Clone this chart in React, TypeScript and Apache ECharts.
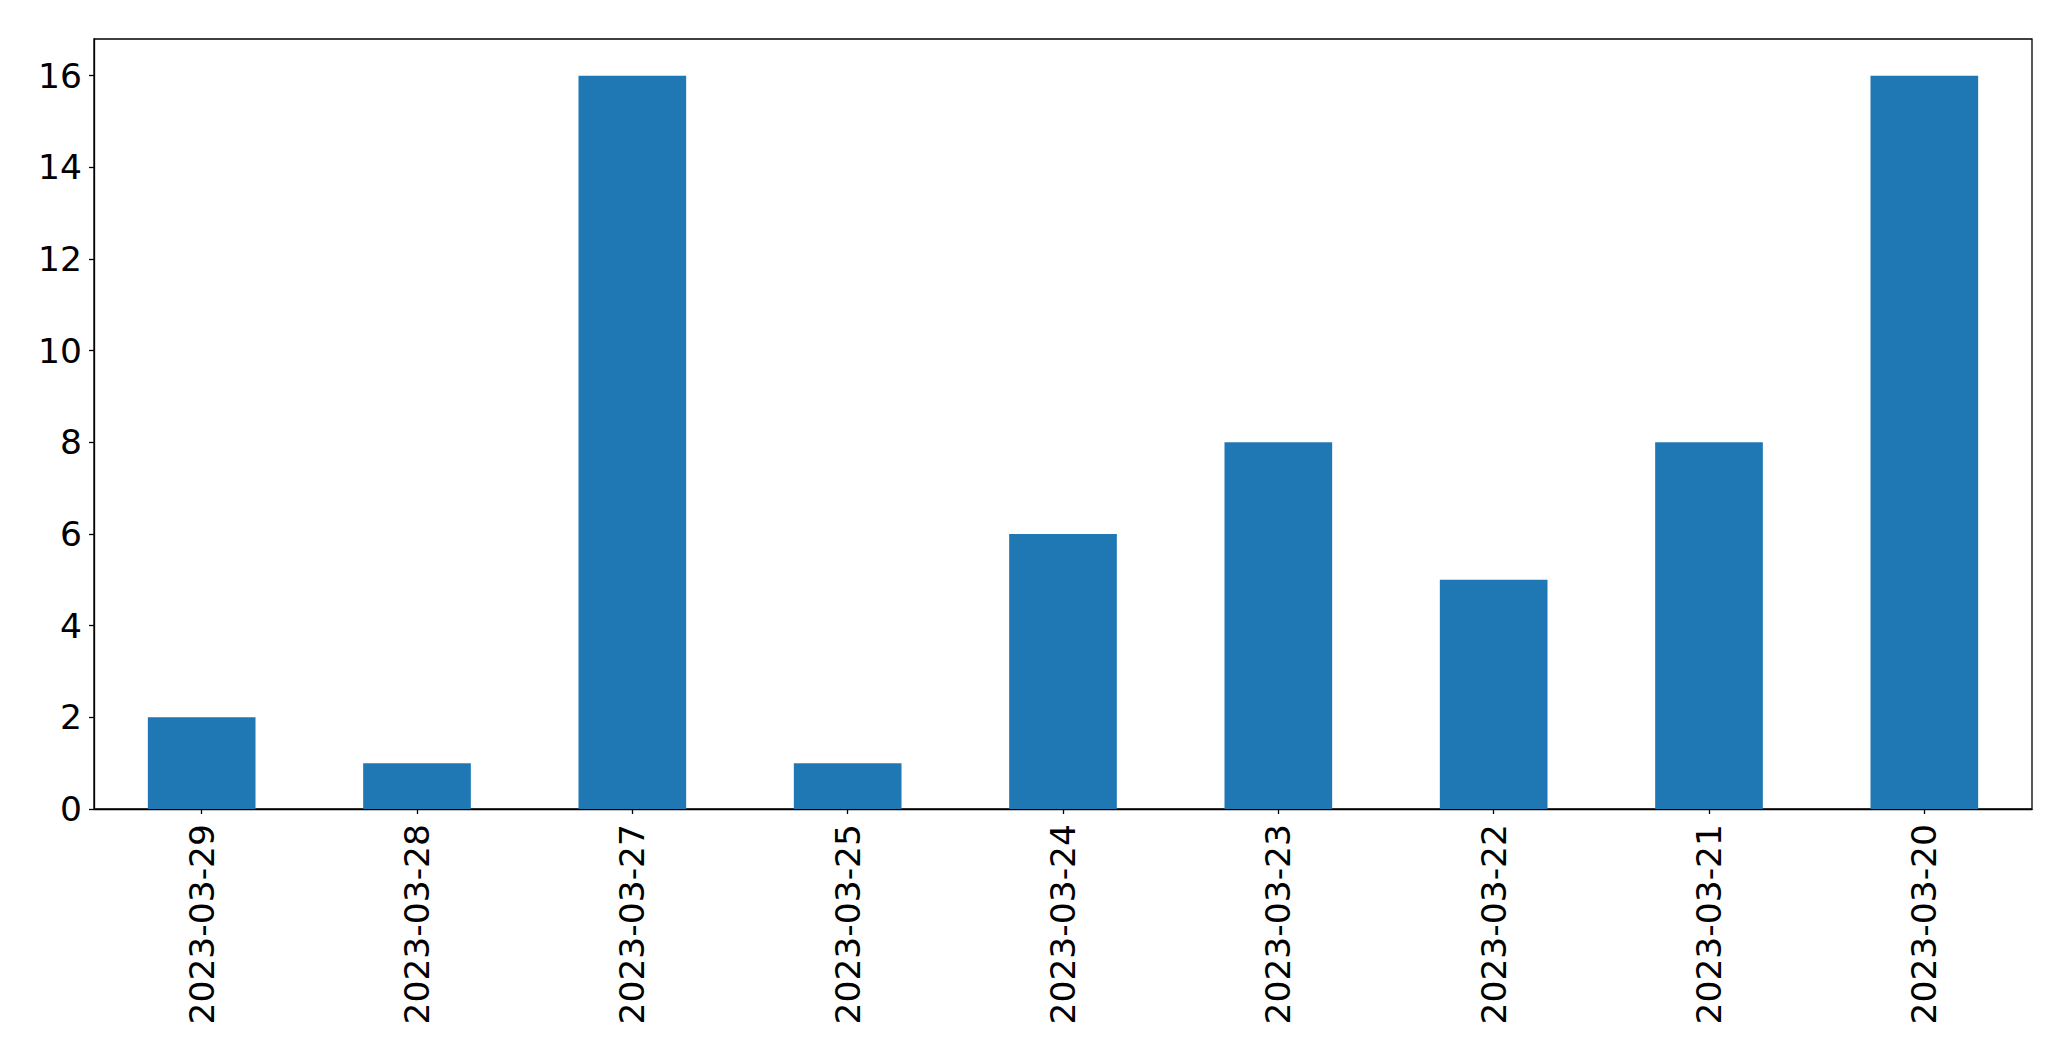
import React, { useEffect, useRef } from "react";
import * as echarts from "echarts";

const categories = ["2023-03-29", "2023-03-28", "2023-03-27", "2023-03-25", "2023-03-24", "2023-03-23", "2023-03-22", "2023-03-21", "2023-03-20"];
const values = [2, 1, 16, 1, 6, 8, 5, 8, 16];
const yTicks = [0, 2, 4, 6, 8, 10, 12, 14, 16];
const yMax = 16.8;

export default function App() {
  const ref = useRef<HTMLDivElement>(null);
  useEffect(() => {
    const chart = echarts.init(ref.current!, null, { renderer: "svg" });
    const font = "DejaVu Sans";
    chart.setOption({
      animation: false,
      backgroundColor: "#ffffff",
      grid: {
        left: 94,
        top: 39,
        width: 1938,
        height: 770,
        show: true,
        borderColor: "#000",
        borderWidth: 1.3,
        backgroundColor: "transparent",
      },
      xAxis: {
        type: "category",
        data: categories,
        boundaryGap: true,
        axisLine: { show: true, lineStyle: { color: "#000", width: 1.3 } },
        axisTick: { show: true, alignWithLabel: true, length: 5, lineStyle: { color: "#000", width: 1.3 } },
        axisLabel: { rotate: 90, fontSize: 34.5, fontFamily: font, color: "#000", margin: 15, interval: 0 },
        splitLine: { show: false },
      },
      yAxis: {
        type: "value",
        min: 0,
        max: yMax,
        axisLine: { show: true, lineStyle: { color: "#000", width: 1.3 } },
        axisTick: { show: true, length: 5, customValues: yTicks, lineStyle: { color: "#000", width: 1.3 } },
        axisLabel: { fontSize: 34.5, fontFamily: font, color: "#000", margin: 12, customValues: yTicks },
        splitLine: { show: false },
      },
      series: [
        {
          type: "bar",
          data: values,
          barWidth: "50%",
          itemStyle: { color: "#1f77b4" },
        },
      ],
    });
    return () => chart.dispose();
  }, []);
  return <div ref={ref} style={{ position: "fixed", left: 0, top: 0, width: 2071, height: 1061 }} />;
}
